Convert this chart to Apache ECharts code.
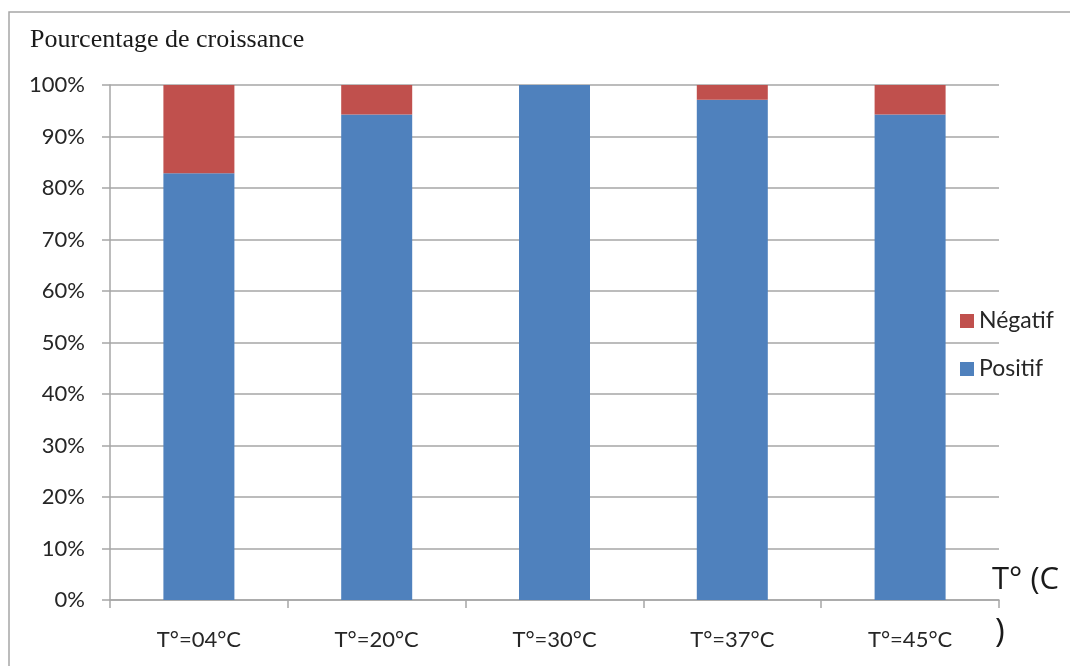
<!DOCTYPE html>
<html>
<head>
<meta charset="utf-8">
<script src="https://cdn.jsdelivr.net/npm/echarts@6/dist/echarts.min.js"></script>
<style>
  html, body { margin: 0; padding: 0; background: #fff; }
  #chart { width: 1070px; height: 666px; }
</style>
</head>
<body>
<div id="chart"></div>
<script>
// Growth percentage per incubation temperature
const categories = ['T°=04°C', 'T°=20°C', 'T°=30°C', 'T°=37°C', 'T°=45°C'];
const positif = [82.86, 94.29, 100, 97.14, 94.29];
const negatif = [17.14, 5.71, 0, 2.86, 5.71];
const yTicks = [0, 10, 20, 30, 40, 50, 60, 70, 80, 90, 100];

const labelFont = 'Lato, "Open Sans", sans-serif';
const gridGray = '#a6a6a6';

const chart = echarts.init(document.getElementById('chart'), null, { renderer: 'canvas' });

chart.setOption({
  animation: false,
  backgroundColor: '#ffffff',
  grid: { left: 110, right: 71, top: 85, bottom: 66, containLabel: false },
  legend: {
    orient: 'vertical',
    left: 955,
    top: 304,
    data: ['Négatif', 'Positif'],
    icon: 'rect',
    itemWidth: 14,
    itemHeight: 14,
    itemGap: 24,
    textStyle: { fontFamily: labelFont, fontSize: 23, color: '#262626', lineHeight: 24 }
  },
  xAxis: {
    type: 'category',
    data: categories,
    axisLine: { lineStyle: { color: gridGray, width: 1.5 } },
    axisTick: { show: true, length: 8, alignWithLabel: false, lineStyle: { color: gridGray, width: 1.5 } },
    axisLabel: { margin: 29, fontFamily: labelFont, fontSize: 22, color: '#262626' }
  },
  yAxis: {
    type: 'value',
    min: 0,
    max: 100,
    interval: 10,
    axisLine: { show: true, lineStyle: { color: gridGray, width: 1.5 } },
    axisTick: { show: true, length: 8, lineStyle: { color: gridGray, width: 1.5 } },
    splitLine: { show: true, lineStyle: { color: gridGray, width: 1.5 } },
    axisLabel: {
      margin: 25,
      fontFamily: labelFont,
      fontSize: 22,
      color: '#262626',
      formatter: function (v) { return yTicks.indexOf(v) >= 0 ? v + '%' : ''; }
    }
  },
  series: [
    {
      name: 'Positif',
      type: 'bar',
      stack: 'total',
      barWidth: 71,
      data: positif,
      itemStyle: { color: '#4f81bd' }
    },
    {
      name: 'Négatif',
      type: 'bar',
      stack: 'total',
      barWidth: 71,
      data: negatif,
      itemStyle: { color: '#c0504d' }
    }
  ],
  graphic: [
    {
      type: 'rect',
      shape: { x: 9, y: 12, width: 1200, height: 800 },
      style: { fill: 'none', stroke: gridGray, lineWidth: 1.5 },
      silent: true
    },
    {
      type: 'text',
      left: 30,
      top: 27,
      style: {
        text: 'Pourcentage de croissance',
        font: '26px "Liberation Serif", "Times New Roman", serif',
        fill: '#1a1a1a'
      }
    },
    {
      type: 'text',
      left: 992,
      top: 565,
      style: {
        text: 'T° (C',
        font: '31px "Open Sans", sans-serif',
        fill: '#1a1a1a'
      }
    },
    {
      type: 'text',
      left: 995,
      top: 616,
      style: {
        text: ')',
        font: '33px "Open Sans", sans-serif',
        fill: '#1a1a1a'
      }
    }
  ]
});
</script>
</body>
</html>
